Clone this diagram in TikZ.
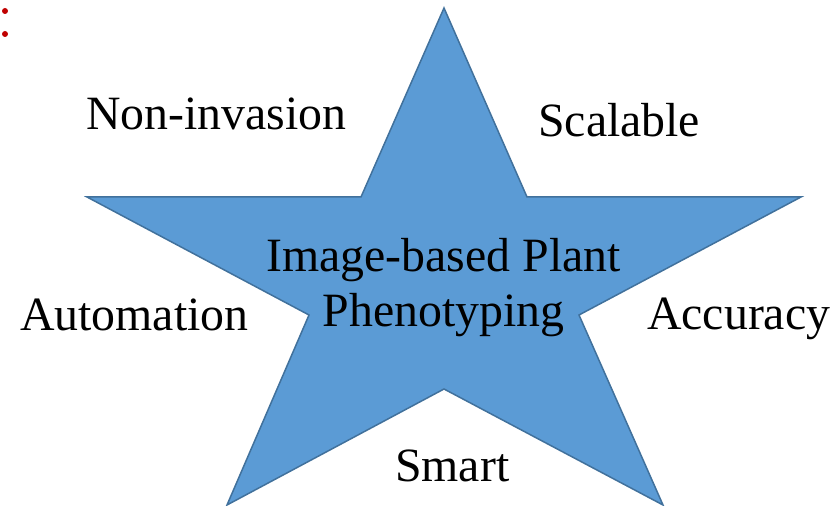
\documentclass[tikz,border=0pt]{standalone}
\usepackage{fontspec}
\setmainfont{Liberation Serif}
\definecolor{starfill}{HTML}{5B9BD5}
\definecolor{stardraw}{HTML}{41719C}
\definecolor{dotred}{HTML}{C00000}
\begin{document}
\begin{tikzpicture}[x=1pt,y=1pt,
  lbl/.style={anchor=base west,inner sep=0pt,font=\fontsize{47.8}{52}\selectfont},
  clbl/.style={anchor=base,inner sep=0pt,font=\fontsize{47.8}{52}\selectfont},
  reddot/.style={fill=dotred,draw=none}]
\useasboundingbox (0,0) rectangle (831,506);
% star (image coords y down -> tikz y = 506 - y)
\filldraw[fill=starfill,draw=stardraw,line width=1.5pt,line join=miter]
  (444,498) -- (527,309) -- (801,309) -- (579,191) -- (663,1)
  -- (444,117) -- (227,1) -- (309,191) -- (87,309) -- (361,309) -- cycle;
\fill[reddot] (5,495) circle (3);
\fill[reddot] (5,472) circle (3);
\node[lbl] (noninv) at (86,376) {Non-invasion};
\node[lbl] (scal) at (538,369) {Scalable};
\node[clbl] (ibpp) at (443.5,234) {Image-based Plant};
\node[clbl] (pheno) at (443.5,179) {Phenotyping};
\node[lbl] (auto) at (20,175) {Automation};
\node[lbl] (acc) at (647,176) {Accuracy};
\node[lbl] (smart) at (395,24) {Smart};
\end{tikzpicture}
\end{document}
